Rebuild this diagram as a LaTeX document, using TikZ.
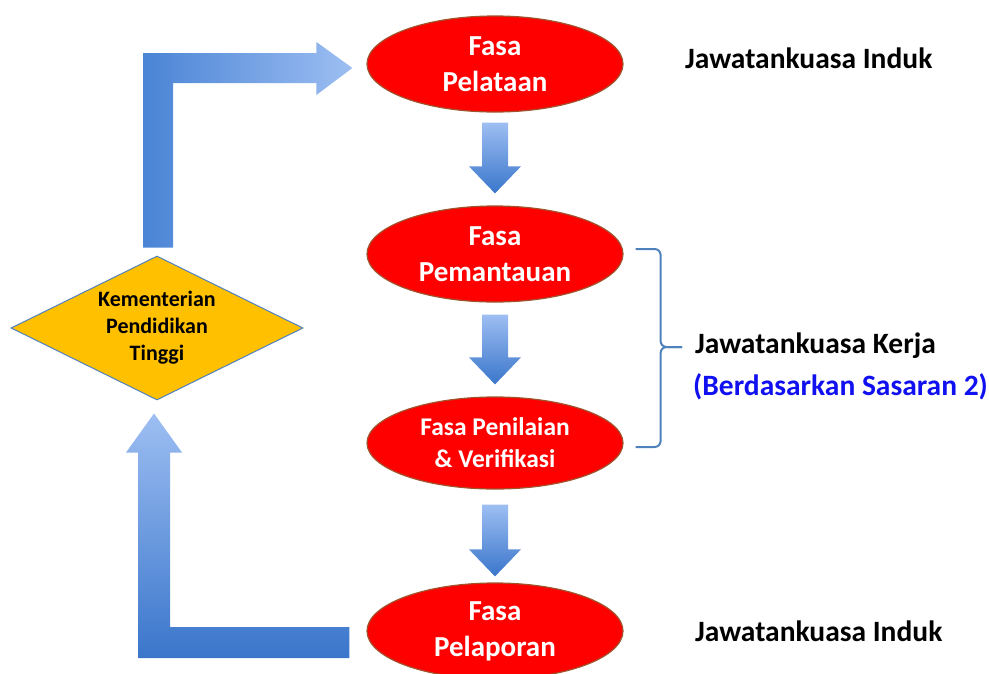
\documentclass[tikz,border=0pt]{standalone}
\usepackage{fontspec}
\setmainfont{Carlito}
\usetikzlibrary{shapes.geometric,calc}
\definecolor{fred}{HTML}{FF0000}
\definecolor{fborder}{HTML}{A0522D}
\definecolor{gold}{HTML}{FFC000}
\definecolor{bline}{HTML}{4F81BD}
\definecolor{alight}{HTML}{9DBEF2}
\definecolor{adark}{HTML}{3A76CB}
\definecolor{amid}{HTML}{4A84D5}
\definecolor{kblue}{HTML}{1010F0}
\newcommand\flowdown[4]{%
  \path[shade, top color=alight, bottom color=adark]
    ($(#1.south)+(-13,#3)$) -- ($(#1.south)+(13,#3)$)
    -- ($(#2.north)+(13,-#4-27)$) -- ($(#2.north)+(26,-#4-27)$)
    -- ($(#2.north)+(0,-#4)$)
    -- ($(#2.north)+(-26,-#4-27)$) -- ($(#2.north)+(-13,-#4-27)$) -- cycle;}
\begin{document}
\begin{tikzpicture}[x=1pt,y=-1pt,
  phase/.style={ellipse, fill=fred, draw=fborder, line width=1.2pt, inner sep=0pt,
    minimum width=256pt, minimum height=96pt, text=white, align=center,
    font=\bfseries\fontsize{29}{36}\selectfont},
  ministry/.style={diamond, aspect=2, fill=gold, draw=bline, line width=1pt, inner sep=0pt,
    minimum width=292pt, minimum height=144pt, align=center,
    font=\bfseries\fontsize{22}{27}\selectfont},
  lbl/.style={anchor=base west, inner sep=0pt, font=\bfseries\fontsize{29.5}{34}\selectfont},
  brace/.style={draw=bline, line width=2pt, rounded corners=6pt}]
\useasboundingbox (0,0) rectangle (989,673);
\clip (0,0) rectangle (989,673);

\node[phase] (e1) at (495,64) {Fasa\\Pelataan};
\node[phase] (e2) at (495,254) {Fasa\\Pemantauan};
\node[phase, minimum height=92pt, font=\bfseries\fontsize{25.5}{32}\selectfont] (e3) at (495,443) {Fasa Penilaian\\\& Verifikasi};
\node[phase] (e4) at (495,631) {Fasa\\Pelaporan};
\node[ministry] (dia) at (157,328) {Kementerian\\Pendidikan\\Tinggi};

\node[lbl] (induk1) at (685,68) {Jawatankuasa Induk};
\node[lbl] (kerja) at (695,353) {Jawatankuasa Kerja};
\node[lbl, text=kblue] (sasaran) at (693,395) {(Berdasarkan Sasaran 2)};
\node[lbl] (induk2) at (695,641) {Jawatankuasa Induk};

% down arrows
\flowdown{e1}{e2}{10}{12}
\flowdown{e2}{e3}{12}{12}
\flowdown{e3}{e4}{15}{6}

% top L arrow: ministry -> Pelataan
\path[shade, left color=amid, right color=alight]
  ($(dia.north)+(-14,-8)$) |- ($(e1.west)+(-50,-11)$)
  -- ($(e1.west)+(-50,-22)$) -- ($(e1.west)+(-14,4)$) -- ($(e1.west)+(-50,31)$)
  -- ($(e1.west)+(-50,19)$) -| ($(dia.north)+(16,-8)$) -- cycle;

% bottom L arrow: Pelaporan -> ministry
\path[shade, top color=alight, bottom color=adark]
  ($(dia.south)+(-3,13)$) -- ($(dia.south)+(25,52)$) -- ($(dia.south)+(13,52)$)
  |- ($(e4.west)+(-17,-4)$) -- ($(e4.west)+(-17,27)$)
  -| ($(dia.south)+(-19,52)$) -- ($(dia.south)+(-31,52)$) -- cycle;

% bracket
\coordinate (bt) at ($(e2.east)+(12,-5)$);
\coordinate (bb) at ($(e3.east)+(12,4)$);
\coordinate (bm) at ($(kerja.base west)+(-13,-6)$);
\draw[brace] (bt) -- ++(25,0) |- (bm);
\draw[brace] (bb) -- ++(25,0) |- (bm);
\end{tikzpicture}
\end{document}
